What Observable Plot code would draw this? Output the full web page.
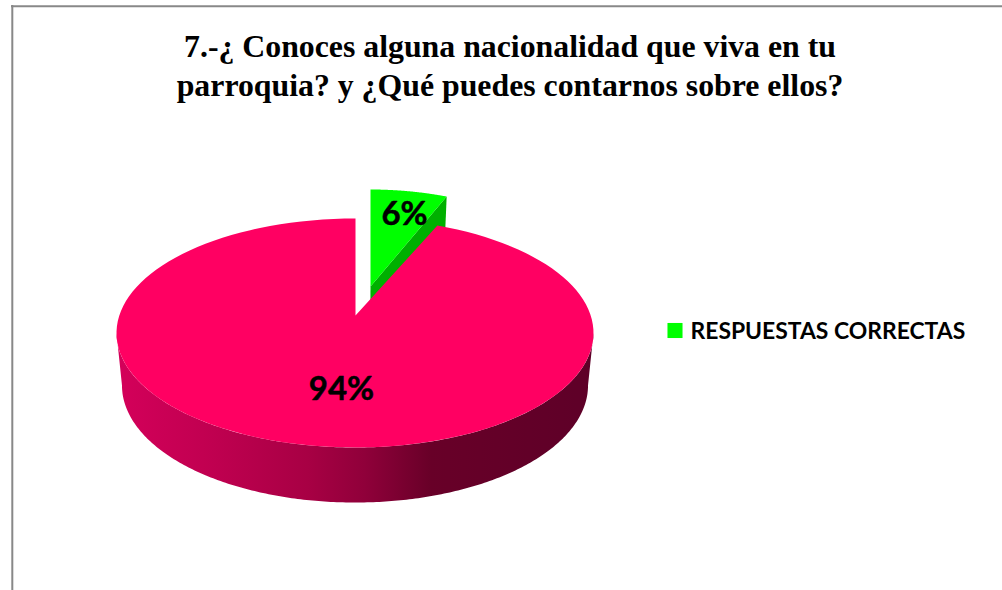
<!DOCTYPE html>
<html>
<head>
<meta charset="utf-8">
<script src="https://cdn.jsdelivr.net/npm/d3@7"></script>
<script src="https://cdn.jsdelivr.net/npm/@observablehq/plot@0.6"></script>
<style>
html,body{margin:0;padding:0;background:#fff;overflow:hidden}
svg{display:block}
</style>
</head>
<body>
<script>
const titleLines = ["7.-¿ Conoces alguna nacionalidad que viva en tu", "parroquia? y ¿Qué puedes contarnos sobre ellos?"];
const categories = ["RESPUESTAS CORRECTAS", "OTRAS"];
const values = [6, 94];
const labels = ["6%", "94%"];
const colors = ["#00ff00", "#ff0062"];
const wallStops = [[0, "#d4005a"], [0.2, "#c00050"], [0.4, "#a80044"], [0.52, "#90003a"], [0.66, "#680028"], [1, "#5e0028"]];

// Tilted disc: an ellipse whose pie centre sits behind its geometric centre
const apex = [355, 315], centre = [354.5, 332.5], rx = 238.5, ry = 114.5, tilt = 2.3;
const explode = [15, -29], explodedScale = 0.93;
const project = a => {
  const dx = tilt * Math.sin(a) / rx, dy = -Math.cos(a) / ry;
  const ox = (apex[0] - centre[0]) / rx, oy = (apex[1] - centre[1]) / ry;
  const A = dx * dx + dy * dy, B = 2 * (ox * dx + oy * dy), C = ox * ox + oy * oy - 1;
  const t = (-B + Math.sqrt(B * B - 4 * A * C)) / (2 * A);
  return [apex[0] + t * tilt * Math.sin(a), apex[1] - t * Math.cos(a)];
};
const drop = ([x, y]) => [centre[0] + (x - centre[0]) * 0.977, 385 + (y - centre[1]) * 1.022];

const arcs = d3.pie().sort(null).value(d => d)(values);
const steps = (a0, a1) => d3.range(0, 121).map(i => a0 + (a1 - a0) * i / 120);
const shift = ([x, y]) => [apex[0] + (x - apex[0]) * explodedScale + explode[0], y + explode[1]];

const greenRim = steps(arcs[0].startAngle, arcs[0].endAngle).map(project);
const greenTop = [apex, ...greenRim].map(shift);
const greenEnd = project(arcs[0].endAngle);
const greenFace = [shift(apex), shift(greenEnd), drop(shift(greenEnd)), drop(shift(apex))];
const pinkRim = steps(arcs[1].startAngle, arcs[1].endAngle).map(project);
const pinkTop = [apex, ...pinkRim];
const wallTop = d3.range(0, 241).map(i => {
  const th = Math.PI * i / 240;
  return [centre[0] + rx * Math.cos(th), centre[1] + ry * Math.sin(th)];
});
const wall = [...wallTop, ...wallTop.slice().reverse().map(drop)];

const poly = (pts, fill) => Plot.line(pts, {x: d => d[0], y: d => d[1], fill, stroke: "none", curve: "linear-closed"});

const chart = Plot.plot({
  width: 1002, height: 590,
  margin: 0,
  x: {domain: [0, 1002], axis: null},
  y: {domain: [590, 0], axis: null},
  style: {background: "#fff"},
  marks: [
    () => {
      const ns = "http://www.w3.org/2000/svg";
      const defs = document.createElementNS(ns, "defs");
      const g = document.createElementNS(ns, "linearGradient");
      g.setAttribute("id", "wallGrad");
      g.setAttribute("x1", "0"); g.setAttribute("x2", "1");
      g.setAttribute("y1", "0"); g.setAttribute("y2", "0");
      for (const [o, c] of wallStops) {
        const s = document.createElementNS(ns, "stop");
        s.setAttribute("offset", o); s.setAttribute("stop-color", c);
        g.appendChild(s);
      }
      defs.appendChild(g);
      return defs;
    },
    Plot.ruleX([11.8], {y1: 5, y2: 590, stroke: "#888", strokeWidth: 2}),
    Plot.ruleY([5.8], {x1: 11, x2: 1002, stroke: "#888", strokeWidth: 2}),
    poly(greenFace, "#00b000"),
    poly(greenTop, colors[0]),
    poly(wall, "url(#wallGrad)"),
    poly(pinkTop, colors[1]),
    Plot.text(titleLines, {x: 509.5, y: (d, i) => 46 + i * 39, text: d => d, fontFamily: "Liberation Serif", fontWeight: "bold", fontSize: 31.8, fill: "#000"}),
    Plot.text([labels[0]], {x: 404, y: 214, text: d => d, fontFamily: "Lato", fontWeight: "bold", fontSize: 33, fill: "#000", stroke: "#000", strokeWidth: 0.5}),
    Plot.text([labels[1]], {x: 341, y: 389, text: d => d, fontFamily: "Lato", fontWeight: "bold", fontSize: 33, fill: "#000", stroke: "#000", strokeWidth: 0.5}),
    Plot.dot([categories[0]], {x: 674.5, y: 330, symbol: "square", r: 8.5, fill: colors[0]}),
    Plot.text([categories[0]], {x: 690, y: 331, text: d => d, textAnchor: "start", fontFamily: "Lato", fontWeight: "bold", fontSize: 22.9, fill: "#000"})
  ]
});
document.body.appendChild(chart);
</script>
</body>
</html>
